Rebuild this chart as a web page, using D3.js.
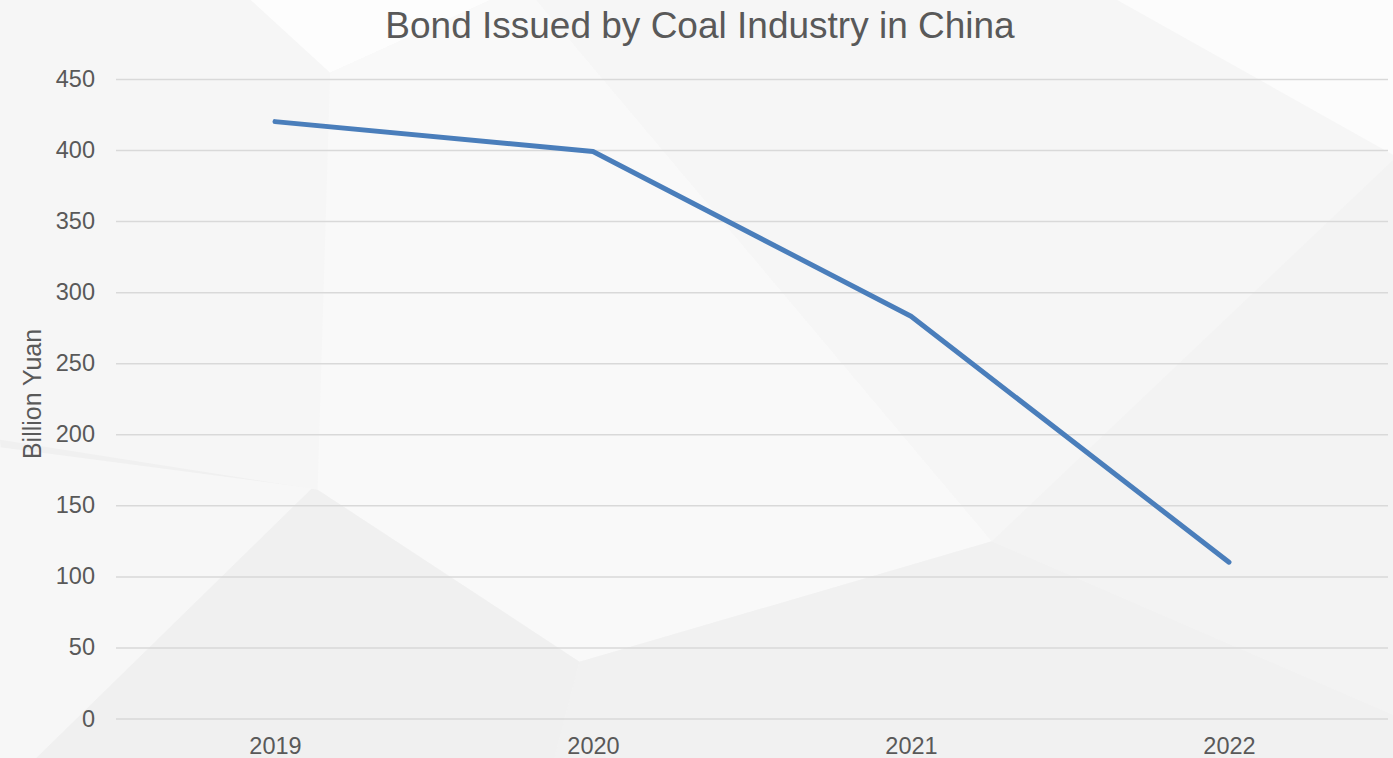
<!DOCTYPE html>
<html>
<head>
<meta charset="utf-8">
<script src="https://cdn.jsdelivr.net/npm/d3@7"></script>
<style>
  html, body { margin: 0; padding: 0; background: #f6f6f6; }
  svg { display: block; }
</style>
</head>
<body>
<svg id="chart" width="1393" height="758"></svg>
<script>
// Bond issuance by the coal industry, billion yuan
const years = ["2019", "2020", "2021", "2022"];
const bondValues = [420, 399, 283, 110];
const yTicks = [0, 50, 100, 150, 200, 250, 300, 350, 400, 450];

const chartTitle = "Bond Issued by Coal Industry in China";
const yAxisTitle = "Billion Yuan";

// Low-poly backdrop facets (relative coordinates 0..1 and a grey level)
const facets = [
  { pts: [[0,0],[0.18,0],[0.237,0.096],[0.228,0.646],[0,0.58]], c: "#f6f6f6" },
  { pts: [[0.18,0],[0.237,0.096],[0.352,0]], c: "#fdfdfd" },
  { pts: [[0.237,0.096],[0.352,0],[0.385,0],[0.712,0.714],[0.416,0.873],[0.228,0.646]], c: "#f9f9f9" },
  { pts: [[0.385,0],[0.802,0],[1,0.204],[1,0.211],[0.712,0.714]], c: "#f6f6f6" },
  { pts: [[0.802,0],[1,0],[1,0.204]], c: "#fcfcfc" },
  { pts: [[0.712,0.714],[1,0.211],[1,0.943]], c: "#f3f3f3" },
  { pts: [[0.416,0.873],[0.712,0.714],[1,0.943],[1,1],[0.398,1]], c: "#f1f1f1" },
  { pts: [[0,0.58],[0.228,0.646],[0.416,0.873],[0.398,1],[0.026,1]], c: "#f0f0f0" },
  { pts: [[0,0.59],[0.224,0.644],[0.026,1],[0,1]], c: "#f7f7f7" }
];

const W = 1393, H = 758;
const margin = { top: 79, right: 5, bottom: 39, left: 116 };

const svg = d3.select("#chart");

// backdrop
svg.append("g").selectAll("polygon")
  .data(facets)
  .join("polygon")
  .attr("points", d => d.pts.map(p => [p[0] * W, p[1] * H].join(",")).join(" "))
  .attr("fill", d => d.c);

const x = d3.scalePoint()
  .domain(years)
  .range([margin.left, W - margin.right])
  .padding(0.5);

const y = d3.scaleLinear()
  .domain([0, 450])
  .range([H - margin.bottom - 0.5, margin.top]);

// horizontal gridlines
svg.append("g")
  .attr("transform", `translate(${margin.left},0)`)
  .call(d3.axisLeft(y).tickValues(yTicks).tickSize(-(W - margin.right - margin.left)).tickFormat(""))
  .call(g => g.select(".domain").remove())
  .call(g => g.selectAll(".tick line").attr("stroke", "#d9d9d9").attr("stroke-width", 1.5));

// y tick labels
svg.append("g")
  .attr("transform", `translate(${margin.left - 21},0)`)
  .call(d3.axisLeft(y).tickValues(yTicks).tickSize(0).tickPadding(0))
  .call(g => g.select(".domain").remove())
  .call(g => g.selectAll("text")
    .attr("fill", "#595959")
    .attr("font-family", "Liberation Sans, Arial, sans-serif")
    .attr("font-size", 23.5));

// x tick labels
svg.append("g")
  .attr("transform", `translate(0,${H - margin.bottom})`)
  .call(d3.axisBottom(x).tickSize(0).tickPadding(18))
  .call(g => g.select(".domain").remove())
  .call(g => g.selectAll("text")
    .attr("fill", "#595959")
    .attr("font-family", "Liberation Sans, Arial, sans-serif")
    .attr("font-size", 23.5));

// series line
const line = d3.line()
  .x((d, i) => x(years[i]))
  .y(d => y(d));

svg.append("path")
  .datum(bondValues)
  .attr("d", line)
  .attr("fill", "none")
  .attr("stroke", "#4a7ebb")
  .attr("stroke-width", 5)
  .attr("stroke-linecap", "round")
  .attr("stroke-linejoin", "round");

// title
svg.append("text")
  .attr("x", 700)
  .attr("y", 38)
  .attr("text-anchor", "middle")
  .attr("fill", "#595959")
  .attr("font-family", "Liberation Sans, Arial, sans-serif")
  .attr("font-size", 37)
  .text(chartTitle);

// y axis title
svg.append("text")
  .attr("transform", `translate(41,${(margin.top + H - margin.bottom) / 2 - 5}) rotate(-90)`)
  .attr("text-anchor", "middle")
  .attr("fill", "#595959")
  .attr("font-family", "Liberation Sans, Arial, sans-serif")
  .attr("font-size", 25)
  .text(yAxisTitle);
</script>
</body>
</html>
